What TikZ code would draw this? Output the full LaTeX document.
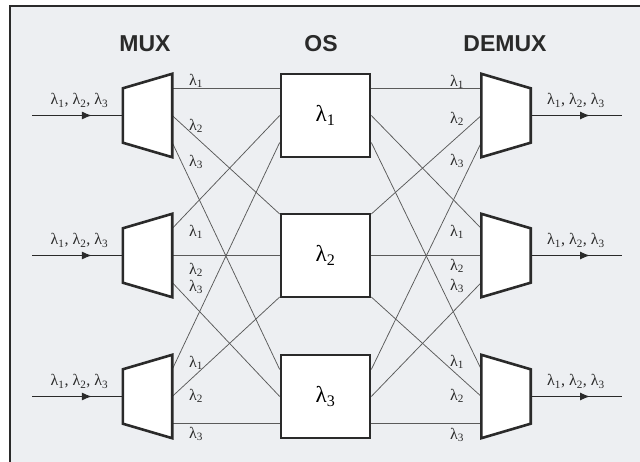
\documentclass[tikz,border=0pt]{standalone}
\usepackage{fontspec}
\setmainfont{Liberation Serif}
\setsansfont{Liberation Sans}
\usetikzlibrary{arrows.meta,decorations.markings}

\definecolor{paper}{HTML}{EDEFF2}
\definecolor{ink}{HTML}{2A2A2A}
\definecolor{wirec}{HTML}{5A5A5A}

\tikzset{
  title/.style={font=\sffamily\bfseries\fontsize{23}{26}\selectfont, text=ink},
  tag/.style={font=\fontsize{16}{18}\selectfont, text=ink, inner sep=0pt},
  slot/.style={minimum width=49pt, minimum height=83pt, inner sep=0pt},
  body/.style={draw=ink, line width=2.6pt, fill=white, line join=miter},
  switchbox/.style={body, minimum width=89pt, minimum height=83pt, inner sep=0pt,
    font=\fontsize{23}{26}\selectfont},
  wire/.style={draw=wirec, line width=0.75pt},
  feed/.style={draw=ink, line width=1.2pt, postaction={decorate},
    decoration={markings, mark=at position #1 with {\arrow{Latex[length=10pt,width=8pt]}}}},
}

\begin{document}
\begin{tikzpicture}[x=1pt, y=-1pt]
  \useasboundingbox (0,0) rectangle (640,462);
  \fill[paper] (10,6) rectangle (640,462);
  \draw[ink, line width=1.5pt] (640,6) -- (10,6) -- (10,462);

  \node[title] (tmux) at (145,44) {MUX};
  \node[title] (tos)  at (321,44) {OS};
  \node[title] (tdmx) at (505,44) {DEMUX};

  % rows: mux, optical switch, demux
  \foreach \r/\y/\s in {1/115.5/27, 2/255.5/41.5, 3/396.5/27} {
    \node[slot] (mux\r) at (147.5,\y) {};
    \node[switchbox] (os\r) at (325.5,\y) {λ\textsubscript{\r}};
    \node[slot] (dmx\r) at (506,\y) {};
    \coordinate (in\r) at (32,\y);
    \coordinate (out\r) at (622,\y);
    \foreach \k/\f in {1/1, 2/0, 3/-1} {
      \coordinate (mux\r-\k) at ([yshift={(\f)*27pt}]mux\r.east);
      \coordinate (dmx\r-\k) at ([yshift={(\f)*27pt}]dmx\r.west);
      \coordinate (os\r-in\k) at ([yshift={(\f)*(\s)*1pt}]os\r.west);
      \coordinate (os\r-out\k) at ([yshift={(\f)*(\s)*1pt}]os\r.east);
    }
  }

  % fibres between the stages
  \foreach \r in {1,2,3}
    \foreach \k in {1,2,3} {
      \draw[wire] (mux\r-\k) -- (os\k-in\r);
      \draw[wire] (os\k-out\r) -- (dmx\r-\k);
    }

  \foreach \r/\y in {1/115.5, 2/255.5, 3/396.5} {
    \draw[body] (mux\r.north east) -- (mux\r.south east)
      -- ([yshift=14.5pt]mux\r.south west) -- ([yshift=-14.5pt]mux\r.north west) -- cycle;
    \draw[body] (dmx\r.north west) -- (dmx\r.south west)
      -- ([yshift=14.5pt]dmx\r.south east) -- ([yshift=-14.5pt]dmx\r.north east) -- cycle;
    \draw[feed=0.66] (in\r) -- (mux\r.west);
    \draw[feed=0.65] (dmx\r.east) -- (out\r);
    \node[tag] (lin\r) at (79.5,\y-15) {λ\textsubscript{1}, λ\textsubscript{2}, λ\textsubscript{3}};
    \node[tag] (lout\r) at (576,\y-15) {λ\textsubscript{1}, λ\textsubscript{2}, λ\textsubscript{3}};
  }

  % wavelength tags
  \foreach \r/\k/\yl/\yr in {1/1/81/82, 1/2/126/119, 1/3/162/161,
                             2/1/232/232, 2/2/270/266, 2/3/287/286,
                             3/1/363/362, 3/2/396/396, 3/3/434/435} {
    \node[tag] (a\r-\k) at (196,\yl) {λ\textsubscript{\k}};
    \node[tag] (b\r-\k) at (457,\yr) {λ\textsubscript{\k}};
  }
\end{tikzpicture}
\end{document}
